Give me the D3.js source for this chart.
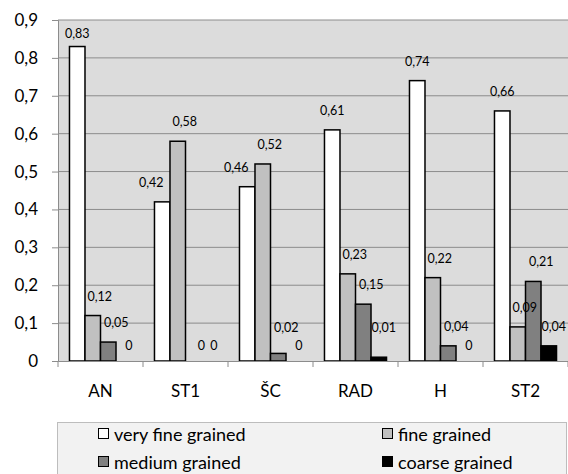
<!DOCTYPE html>
<html><head><meta charset="utf-8">
<script src="https://cdn.jsdelivr.net/npm/d3@7"></script>
<style>body{margin:0;background:#fff}svg{display:block}text{font-family:Lato,"Open Sans",sans-serif}</style>
</head><body><svg id="c" width="568" height="474"></svg>
<script>
const categories = ["AN","ST1","ŠC","RAD","H","ST2"];
const seriesNames = ["very fine grained","fine grained","medium grained","coarse grained"];
const veryFine = [0.83,0.42,0.46,0.61,0.74,0.66];
const fine = [0.12,0.58,0.52,0.23,0.22,0.09];
const medium = [0.05,0,0.02,0.15,0.04,0.21];
const coarse = [0,0,0,0.01,0,0.04];
const yTicks = [0,0.1,0.2,0.3,0.4,0.5,0.6,0.7,0.8,0.9];
const seriesValues = [veryFine, fine, medium, coarse];
const colors = ["#ffffff","#c0c0c0","#808080","#000000"];
const labelDx = [0,7,8,5];

(function(){
const svg = d3.select("#c");
const fmt = v => String(v).replace(".", ",");
const mL = 58, mR = 568, mT = 20, mB = 361;
const x = d3.scaleBand().domain(categories).range([mL, mR]).paddingInner(0).paddingOuter(0);
const xs = d3.scaleBand().domain(d3.range(4)).range([0, x.bandwidth()]).paddingInner(0).paddingOuter(0.74);
const y = d3.scaleLinear().domain([0,0.9]).range([mB, mT]);

svg.append("rect").attr("x", mL).attr("y", mT).attr("width", mR-mL).attr("height", mB-mT).attr("fill", "#dcdcdc");
svg.append("g").selectAll("line").data(yTicks.slice(1)).join("line")
  .attr("x1", mL).attr("x2", mR).attr("y1", d=>y(d)).attr("y2", d=>y(d))
  .attr("stroke", "#8c8c8c").attr("stroke-width", 1);

const ya = svg.append("g").attr("transform", `translate(${mL},0)`)
  .call(d3.axisLeft(y).tickValues(yTicks).tickFormat(fmt).tickSize(6).tickPadding(14));
ya.select(".domain").attr("stroke", "#8c8c8c");
ya.selectAll(".tick line").attr("stroke", "#8c8c8c");
ya.selectAll("text").attr("font-size", 17).attr("fill", "#000");

const groups = svg.append("g").selectAll("g").data(categories).join("g")
  .attr("transform", d => `translate(${x(d)},0)`);
groups.each(function(cat, ci){
  const g = d3.select(this);
  seriesValues.forEach((arr, si) => {
    const v = arr[ci];
    g.append("rect").attr("x", xs(si)).attr("y", y(v)).attr("width", xs.bandwidth())
      .attr("height", mB - y(v)).attr("fill", colors[si])
      .attr("stroke", "#000").attr("stroke-width", v > 0 ? 1.5 : 0);
  });
  seriesValues.forEach((arr, si) => {
    const v = arr[ci];
    let dx = labelDx[si];
    if (si === 0 && seriesValues[1][ci] > v) dx = -11;
    let by = v === 0 ? mB - 11 : Math.min(y(v) - 15, mB - 29);
    by = Math.max(by, mT + 18);
    g.append("text").attr("x", xs(si) + xs.bandwidth()/2 + dx).attr("y", by)
      .attr("text-anchor", "middle").attr("font-size", 12.5).attr("fill", "#000").text(fmt(v));
  });
});

const xa = svg.append("g").attr("transform", `translate(0,${mB})`)
  .call(d3.axisBottom(x).tickSize(0).tickPadding(24));
xa.select(".domain").attr("stroke", "#8c8c8c");
xa.selectAll("text").attr("font-size", 17).attr("fill", "#000");
svg.append("g").selectAll("line").data(d3.range(categories.length+1)).join("line")
  .attr("x1", i => mL + i*x.step()).attr("x2", i => mL + i*x.step())
  .attr("y1", mB).attr("y2", mB+6).attr("stroke", "#8c8c8c");

svg.append("rect").attr("x", 57.5).attr("y", 422.5).attr("width", 509).attr("height", 60)
  .attr("fill", "#f2f2f2").attr("stroke", "#bdbdbd");
const legPos = [[98,434],[382,434],[98,462],[382,462]];
seriesNames.forEach((n, i) => {
  const [lx, ly] = legPos[i];
  svg.append("rect").attr("x", lx+0.5).attr("y", ly-5.5).attr("width", 10).attr("height", 10)
    .attr("fill", colors[i]).attr("stroke", "#000");
  svg.append("text").attr("x", lx + 16).attr("y", ly + 7).attr("font-size", 18).attr("fill", "#000").text(n);
});
})();
</script></body></html>
